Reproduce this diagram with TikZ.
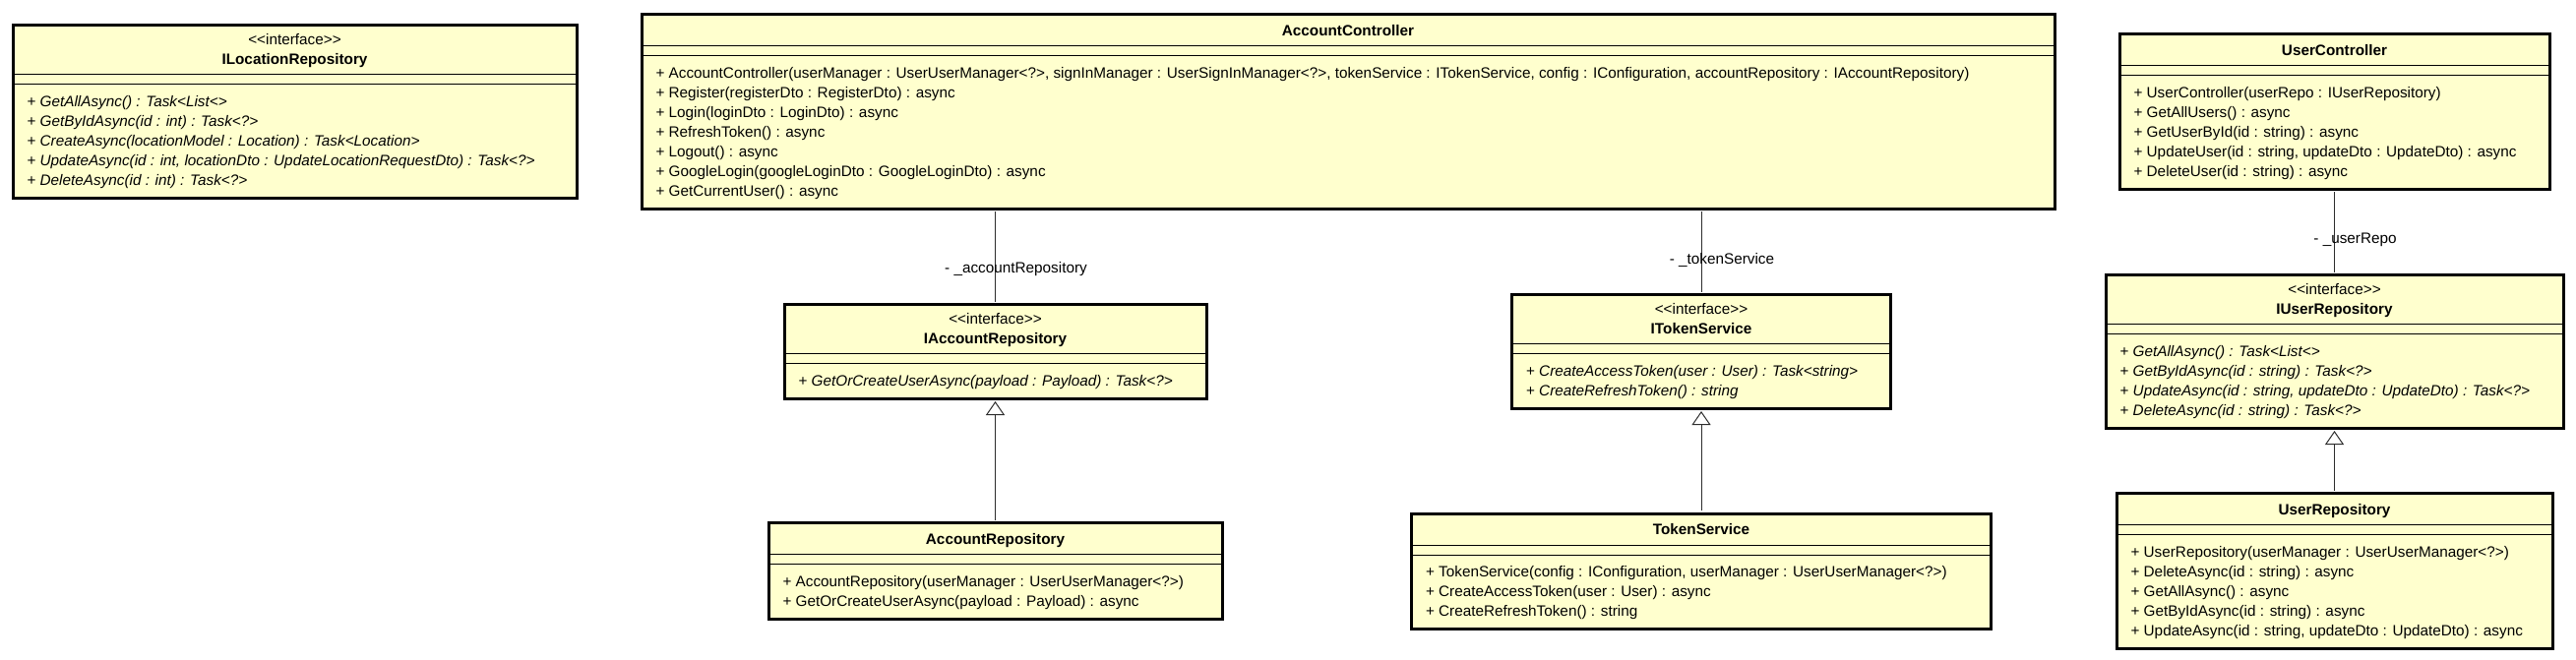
\documentclass[tikz,border=0pt]{standalone}
\usepackage{fontspec}
\setmainfont{Liberation Sans}[Ligatures=TeXOff]
\usepackage{tikz}
\usetikzlibrary{arrows.meta}

\definecolor{classfill}{RGB}{255,255,206}
\definecolor{linkgray}{RGB}{45,45,45}

\newcommand{\umlrow}[1]{\hbox to\hsize{\vrule height15pt depth5pt width0pt\relax#1}}
\newcommand{\umlmid}[1]{\umlrow{\hfil#1\hfil}}
\newcommand{\umlop}[1]{\umlrow{\hskip14.5pt\relax+ #1\hfil}}
\newcommand{\umlabs}[1]{\umlrow{\hskip14.5pt\relax+ \textit{#1}\hfil}}
\newcommand{\classhead}[1]{\vskip6.5pt\relax\umlmid{\bfseries #1}\vskip5pt\relax}
\newcommand{\ifacehead}[1]{\vskip5pt\relax\umlmid{<<interface>>}\umlmid{\bfseries #1}\vskip4.5pt\relax}
\newcommand{\umlbody}[3]{\vbox{\hsize=#1\offinterlineskip
    #2\hrule height1pt\vskip9pt\relax\hrule height1pt
    \vskip7pt\relax#3\vskip8pt\relax}}

\begin{document}
\begin{tikzpicture}[x=1pt, y=-1pt,
        umlclass/.style={draw=black, line width=3pt, fill=classfill, inner sep=0pt, anchor=north,
            font=\fontsize{15.3}{20}\selectfont},
        assoc/.style={draw=linkgray, line width=1pt, shorten <=1.5pt, shorten >=1.5pt},
        realize/.style={draw=linkgray, line width=1pt, shorten <=1.5pt, shorten >=1.5pt,
            -{Triangle[width=19pt, length=14pt, fill=white]}},
        role/.style={inner sep=0pt, xshift=21pt, font=\fontsize{15.3}{18}\selectfont}]
        \useasboundingbox (0,0) rectangle (2618,670);
        % interfaces and classes
        \node[umlclass] (iLocRepo) at (299.5,24) {\umlbody{573pt}{\ifacehead{ILocationRepository}}{%
            \umlabs{GetAllAsync() : Task<List<>}
            \umlabs{GetByIdAsync(id : int) : Task<?>}
            \umlabs{CreateAsync(locationModel : Location) : Task<Location>}
            \umlabs{UpdateAsync(id : int, locationDto : UpdateLocationRequestDto) : Task<?>}
            \umlabs{DeleteAsync(id : int) : Task<?>}}};
        \node[umlclass] (acctCtrl) at (1370,13) {\umlbody{1436pt}{\classhead{AccountController}}{%
            \umlop{AccountController(userManager : UserUserManager<?>, signInManager : UserSignInManager<?>, tokenService : ITokenService, config : IConfiguration, accountRepository : IAccountRepository)}
            \umlop{Register(registerDto : RegisterDto) : async}
            \umlop{Login(loginDto : LoginDto) : async}
            \umlop{RefreshToken() : async}
            \umlop{Logout() : async}
            \umlop{GoogleLogin(googleLoginDto : GoogleLoginDto) : async}
            \umlop{GetCurrentUser() : async}}};
        \node[umlclass] (userCtrl) at (2372.5,33) {\umlbody{437pt}{\classhead{UserController}}{%
            \umlop{UserController(userRepo : IUserRepository)}
            \umlop{GetAllUsers() : async}
            \umlop{GetUserById(id : string) : async}
            \umlop{UpdateUser(id : string, updateDto : UpdateDto) : async}
            \umlop{DeleteUser(id : string) : async}}};
        \node[umlclass] (iAcctRepo) at (1011.5,308) {\umlbody{429pt}{\ifacehead{IAccountRepository}}{%
            \umlabs{GetOrCreateUserAsync(payload : Payload) : Task<?>}}};
        \node[umlclass] (acctRepo) at (1011.5,530) {\umlbody{461pt}{\classhead{AccountRepository}}{%
            \umlop{AccountRepository(userManager : UserUserManager<?>)}
            \umlop{GetOrCreateUserAsync(payload : Payload) : async}}};
        \node[umlclass] (iTokenSvc) at (1729,298) {\umlbody{385pt}{\ifacehead{ITokenService}}{%
            \umlabs{CreateAccessToken(user : User) : Task<string>}
            \umlabs{CreateRefreshToken() : string}}};
        \node[umlclass] (tokenSvc) at (1729,520.5) {\umlbody{589pt}{\classhead{TokenService}}{%
            \umlop{TokenService(config : IConfiguration, userManager : UserUserManager<?>)}
            \umlop{CreateAccessToken(user : User) : async}
            \umlop{CreateRefreshToken() : string}}};
        \node[umlclass] (iUserRepo) at (2372.5,278) {\umlbody{465pt}{\ifacehead{IUserRepository}}{%
            \umlabs{GetAllAsync() : Task<List<>}
            \umlabs{GetByIdAsync(id : string) : Task<?>}
            \umlabs{UpdateAsync(id : string, updateDto : UpdateDto) : Task<?>}
            \umlabs{DeleteAsync(id : string) : Task<?>}}};
        \node[umlclass] (userRepo) at (2372.5,500) {\umlbody{443pt}{\classhead{UserRepository}}{%
            \umlop{UserRepository(userManager : UserUserManager<?>)}
            \umlop{DeleteAsync(id : string) : async}
            \umlop{GetAllAsync() : async}
            \umlop{GetByIdAsync(id : string) : async}
            \umlop{UpdateAsync(id : string, updateDto : UpdateDto) : async}}};
        % associations
        \draw[assoc] (iAcctRepo.north |- acctCtrl.south) -- node[role, pos=0.64] {- \_accountRepository} (iAcctRepo.north);
        \draw[assoc] (iTokenSvc.north |- acctCtrl.south) -- node[role, pos=0.6] {- \_tokenService} (iTokenSvc.north);
        \draw[assoc] (userCtrl.south) -- node[role, pos=0.6] {- \_userRepo} (iUserRepo.north);
        % realizations
        \draw[realize] (acctRepo.north) -- (iAcctRepo.south);
        \draw[realize] (tokenSvc.north) -- (iTokenSvc.south);
        \draw[realize] (userRepo.north) -- (iUserRepo.south);
    \end{tikzpicture}
\end{document}
